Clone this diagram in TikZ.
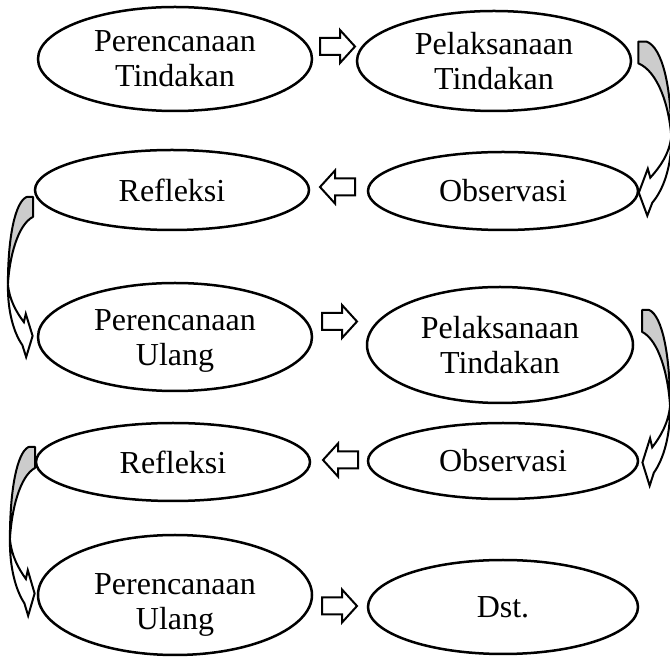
\documentclass[tikz,border=0pt]{standalone}
\usepackage{fontspec}
\setmainfont{Liberation Serif}
\usetikzlibrary{shapes.geometric}
\definecolor{backgray}{HTML}{CCCCCC}
\tikzset{
  ell/.style={ellipse, draw, line width=1.25pt, inner sep=0pt, align=center,
    font=\fontsize{16}{17.5}\selectfont},
  txt/.style={inner sep=0pt, align=center, font=\fontsize{16}{17.5}\selectfont},
  blockarrow/.pic={\draw[line width=1pt, fill=white, line join=miter]
    (0,-8.5) -- (20,-8.5) -- (20,-16.5) -- (35,0) -- (20,16.5) -- (20,8.5) -- (0,8.5) -- cycle;},
  curvedarrow/.pic={
    \filldraw[line width=1pt, fill=backgray, line join=round]
      (0,0) -- (8.5,0) .. controls (24,6) and (33,45) .. (33,95)
      .. controls (31,65) and (20,30) .. (0,21.6) -- cycle;
    \filldraw[line width=1pt, fill=white, line join=miter]
      (33,95) .. controls (33.5,125) and (25,148) .. (14,161)
      -- (9,174) -- (0.5,151) -- (9.5,127) -- (12,136)
      .. controls (22,125) and (31,112) .. (33,95) -- cycle;
  }
}
\begin{document}
\begin{tikzpicture}[x=0.5pt, y=-0.5pt]
\useasboundingbox (0,0) rectangle (670,657);
% curved arrows
\pic at (638.3,41.7) {curvedarrow};
\pic[xscale=-0.76, yscale=0.92] at (33,197) {curvedarrow};
\pic[xscale=0.85, yscale=1.01] at (642,310) {curvedarrow};
\pic[xscale=-0.76, yscale=0.97] at (35,447) {curvedarrow};
% block arrows
\pic at (320,46.5) {blockarrow};
\pic[xscale=-1] at (355,187) {blockarrow};
\pic at (322,321.5) {blockarrow};
\pic[xscale=-1] at (358,460) {blockarrow};
\pic at (322,606) {blockarrow};
% ellipses
\node[ell, minimum width=137pt, minimum height=52pt] (e1) at (175,59) {Perencanaan\\Tindakan};
\node[ell, minimum width=137pt, minimum height=50pt] (e2) at (494,61) {Pelaksanaan\\Tindakan};
\node[ell, minimum width=137pt, minimum height=40pt] (e3) at (172,190) {Refleksi};
\node[ell, minimum width=135pt, minimum height=39pt] (e4) at (503,191) {Observasi};
\node[ell, minimum width=137pt, minimum height=54pt] (e5) at (175,337) {};
\node[txt] (t5) at (175,341) {Perencanaan\\Ulang};
\node[ell, minimum width=133pt, minimum height=58pt] (e6) at (500,345) {Pelaksanaan\\Tindakan};
\node[ell, minimum width=137pt, minimum height=39pt] (e7) at (173,462) {Refleksi};
\node[ell, minimum width=135pt, minimum height=38pt] (e8) at (503,461) {Observasi};
\node[ell, minimum width=137pt, minimum height=60pt] (e9) at (175,595) {};
\node[txt] (t9) at (175,605) {Perencanaan\\Ulang};
\node[ell, minimum width=135pt, minimum height=47pt] (e10) at (503,607) {Dst.};
\end{tikzpicture}
\end{document}
